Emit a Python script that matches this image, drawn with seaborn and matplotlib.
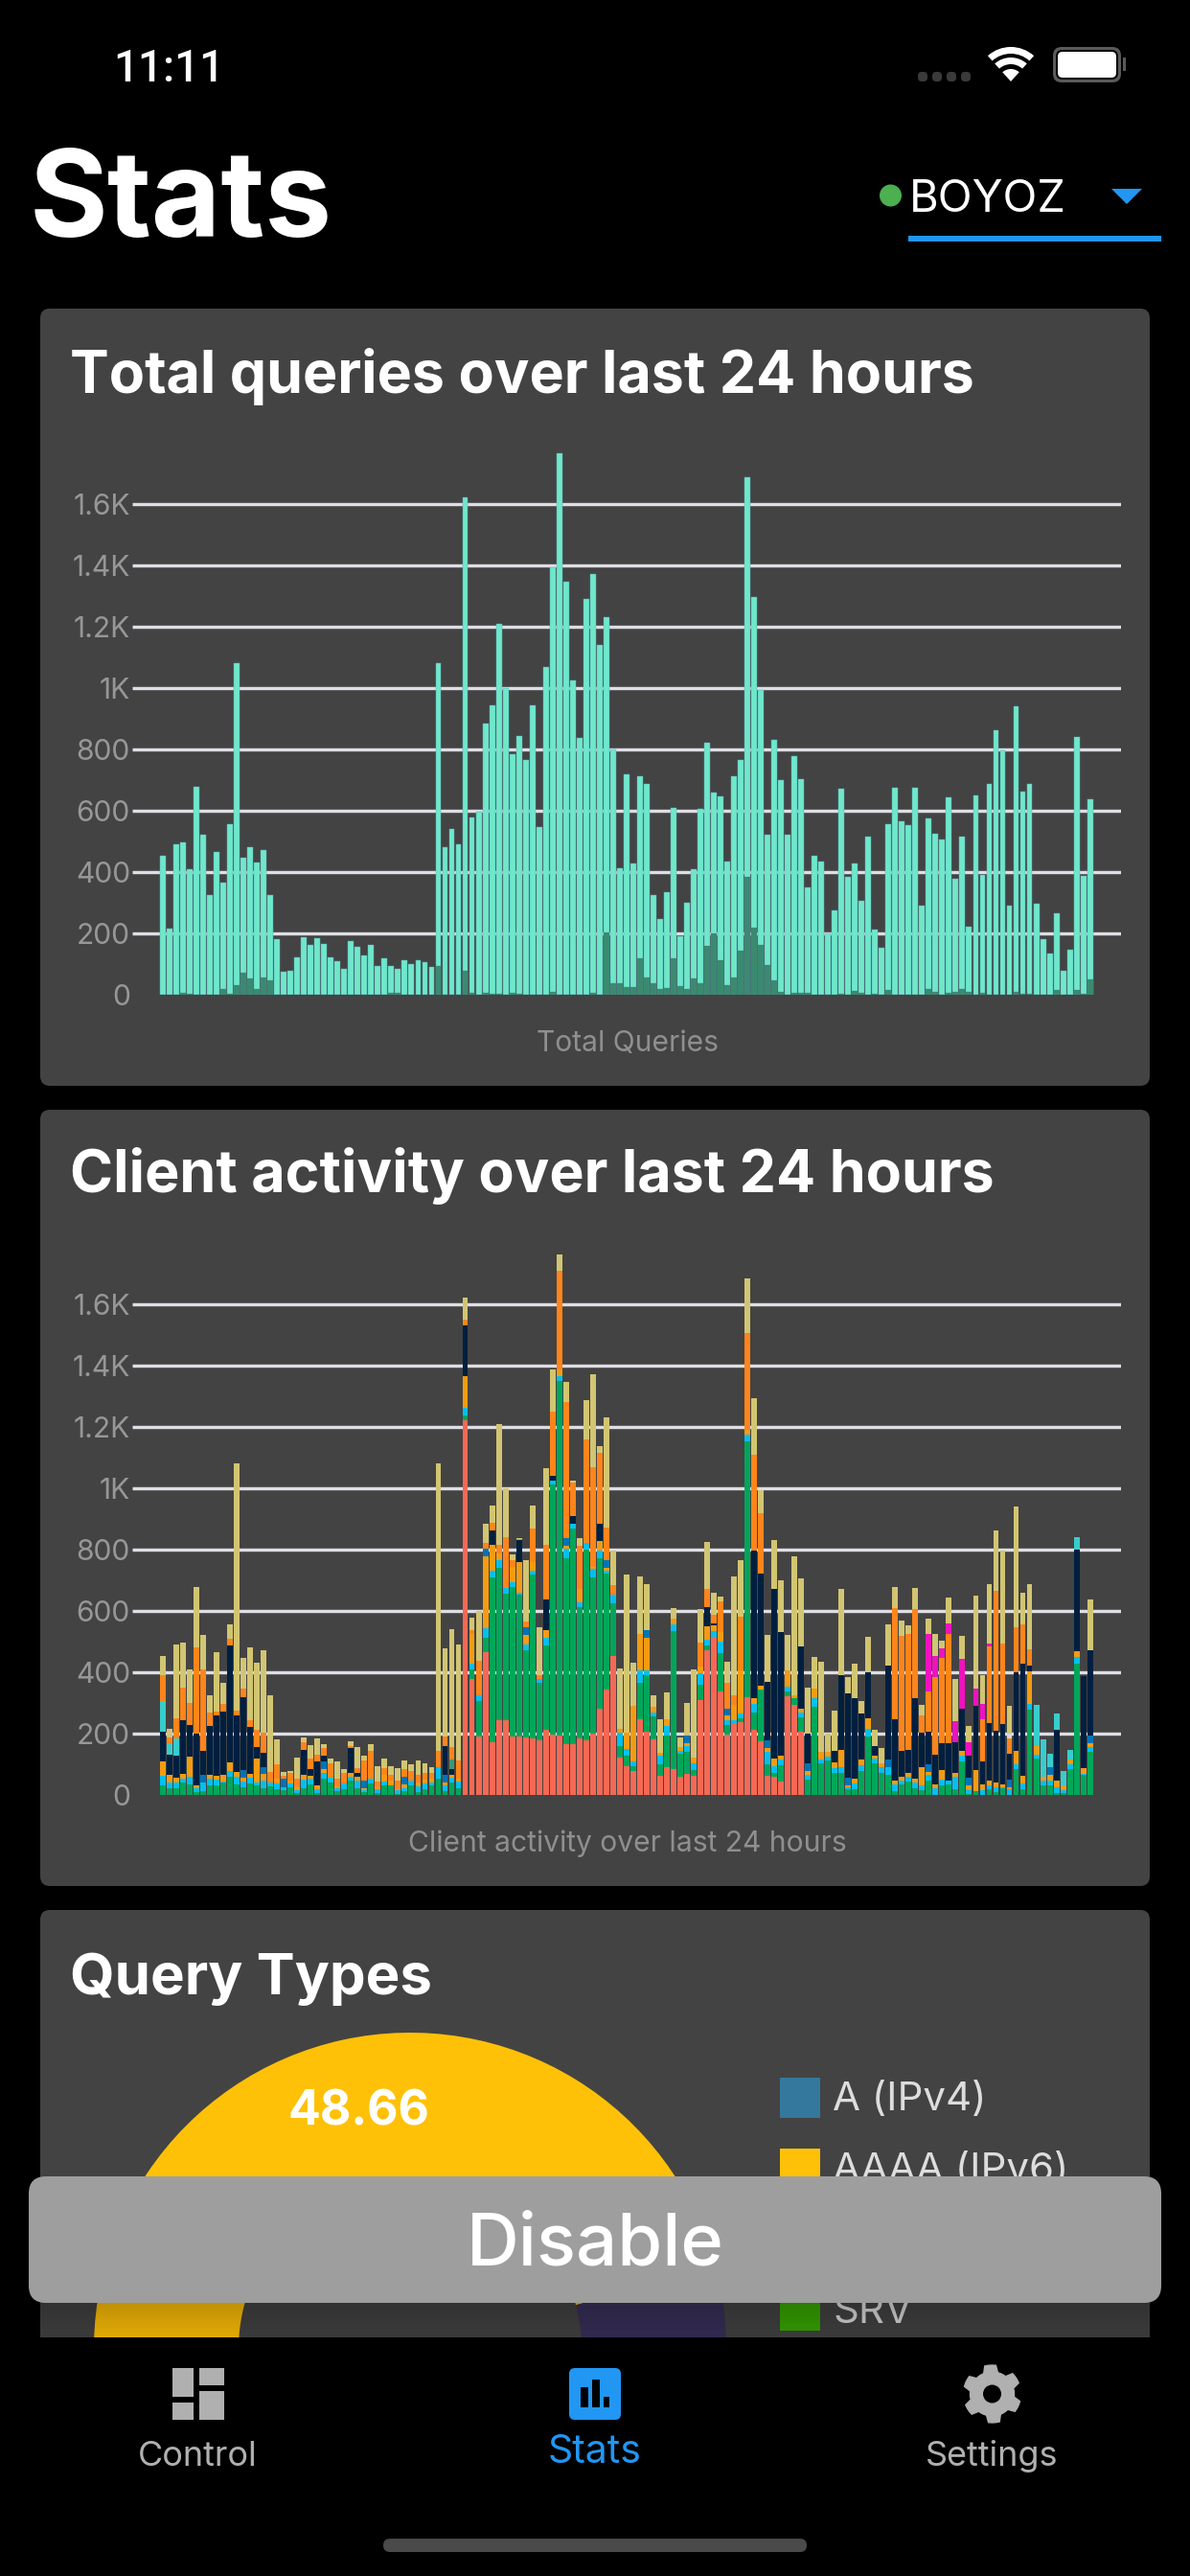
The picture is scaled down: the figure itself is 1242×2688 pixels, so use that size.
import numpy as np
import pandas as pd
import matplotlib
matplotlib.use("Agg")
import matplotlib.pyplot as plt
import seaborn as sns
from matplotlib.patches import FancyBboxPatch, Rectangle, Wedge, Circle, Polygon

# ---------- data ----------
total_queries = [454,217,492,496,411,677,523,325,467,366,
 557,1082,446,482,432,473,325,183,75,78,
 122,189,163,186,167,121,109,84,175,158,
 130,164,94,120,95,86,113,102,113,106,
 90,1082,482,541,490,1620,577,598,884,945,
 1210,1000,783,843,766,944,548,1067,1393,1765,
 1347,1024,838,1289,1370,1139,1230,800,412,719,
 429,711,687,326,246,336,608,190,299,410,
 605,823,658,648,434,713,764,1686,1295,992,
 521,832,700,521,777,704,350,452,436,201,
 274,673,384,427,306,516,212,155,557,676,
 566,553,674,292,576,526,505,644,379,517,
 221,649,391,688,862,797,290,939,661,687,
 296,183,136,266,79,147,839,388,639]
blocked_queries = [0,0,0,6,5,0,0,0,0,19,
 5,31,72,54,18,58,48,0,0,0,
 0,2,0,2,2,2,0,0,2,0,
 0,0,0,0,6,6,0,0,0,0,
 0,93,2,0,0,80,7,0,7,4,
 4,0,7,4,0,0,0,2,11,0,
 2,0,0,0,7,2,205,39,39,25,
 25,118,58,37,19,21,118,30,18,54,
 39,159,200,112,33,56,143,386,218,162,
 97,48,11,0,8,8,6,0,0,0,
 0,4,0,12,6,2,5,0,16,0,
 0,0,0,0,18,11,0,8,11,19,
 11,0,7,0,0,0,2,10,5,5,
 0,0,0,16,0,0,16,5,50]

client_red = [0]*45 + [1221,378,192,466,174,244,246,190,192,188,185,179,212,198,196,
 167,166,185,180,200,283,343,455,123,94,79,247,208,183,63,90,84,59,71,63,
 311,472,517,338,197,233,237,320,213,176,62,61,44,321,293,207] + [0]*43
client_green = [31,22,22,42,36,10,14,31,31,42,
 60,36,25,39,31,22,30,19,17,25,
 7,23,35,6,55,43,12,19,48,22,
 10,38,7,33,32,3,13,33,10,19,
 33,54,13,42,24,16,32,116,47,537,
 497,412,489,460,284,534,186,276,813,1154,
 605,703,428,621,510,490,380,171,37,35,
 16,118,182,73,39,105,450,75,71,18,
 49,16,0,124,31,0,14,834,56,168,
 38,12,54,16,22,48,50,288,105,114,
 73,73,19,19,79,191,105,74,68,14,
 35,45,24,17,48,0,31,36,20,110,
 3,12,0,19,10,22,0,85,19,278,
 119,33,33,8,7,84,429,67,141]
client_aqua = [31,19,19,12,23,12,26,22,20,4,
 18,24,20,17,10,26,12,19,10,12,
 10,29,18,13,19,14,12,18,12,26,
 7,16,13,12,0,14,11,14,20,20,
 10,39,18,14,20,24,19,17,32,20,
 26,18,16,8,19,14,15,26,14,14,
 32,16,14,20,29,23,10,27,43,23,
 14,41,17,13,27,30,22,10,17,24,
 36,20,18,38,18,13,16,20,29,0,
 42,22,17,17,0,14,16,27,13,13,
 16,20,6,19,19,25,14,19,24,22,
 13,16,18,16,18,22,19,12,41,20,
 12,0,16,13,17,3,19,17,20,18,
 14,14,14,19,10,16,22,3,17]
client_yellow = [48,24,17,17,68,11,0,12,13,19,
 30,16,12,13,79,22,0,17,0,11,
 8,13,11,14,11,0,4,0,12,12,
 7,0,5,20,17,3,11,0,12,12,
 12,0,11,10,11,105,97,0,233,85,
 22,0,48,100,32,26,0,24,0,24,
 8,0,45,0,5,31,8,0,12,51,
 182,121,106,19,10,24,19,13,10,19,
 24,43,20,32,13,49,141,18,19,12,
 12,26,14,53,12,13,13,32,23,13,
 18,54,7,16,17,35,11,11,0,12,
 13,12,13,60,10,14,33,0,12,13,
 17,71,20,16,16,10,7,42,24,109,
 26,13,19,20,16,16,19,18,12]
client_blue = [0,0,0,0,0,0,25,0,0,0,
 0,0,26,0,0,22,0,0,26,0,
 0,0,0,0,26,0,0,0,0,0,
 23,0,0,0,0,0,24,0,0,0,
 0,0,25,0,0,0,0,0,26,0,
 0,0,0,0,24,0,0,0,0,0,
 25,0,0,0,0,0,24,0,0,0,
 0,0,25,0,0,0,0,0,25,0,
 0,0,0,0,24,0,0,0,0,0,
 24,0,0,0,0,0,26,0,0,0,
 0,0,25,0,0,0,0,0,25,0,
 0,0,0,0,26,0,0,0,0,0,
 25,0,0,0,0,0,24,0,0,0,
 0,0,26,0,0,0,0,0,25]
client_navy = [97,66,72,173,102,168,81,161,195,208,
 380,184,235,153,36,47,0,0,0,0,
 0,82,20,76,19,0,0,0,82,14,
 0,0,0,0,0,0,0,0,0,0,
 0,0,94,20,0,165,0,0,0,47,
 0,0,0,71,0,0,0,100,16,0,
 0,25,0,0,0,56,0,0,0,0,
 0,0,0,0,0,0,0,0,0,0,
 0,62,6,0,0,0,0,0,479,366,
 192,551,404,0,0,203,96,2,0,0,
 37,245,275,263,152,149,30,0,305,201,
 84,74,262,111,105,97,88,123,99,139,
 72,209,75,188,166,197,85,256,366,17,
 0,0,0,165,0,0,329,301,276]
client_teal = [99,38,54] + [0]*127 + [136,121,43,54,47,32,42,0,0]
client_olive = [0]*43 + [29] + [0]*95
client_orange = [85,19,68,106,71,281,263,43,13,25,
 22,17,31,22,56,66,33,45,11,25,
 30,25,36,22,25,47,26,35,6,14,
 65,92,21,24,17,29,25,33,23,22,
 17,51,30,41,59,20,13,114,19,25,
 27,165,23,4,19,110,11,178,209,321,
 445,110,140,338,324,231,108,33,0,0,
 0,0,0,0,0,0,0,0,0,0,
 78,59,27,99,84,30,174,315,314,196,
 0,0,0,0,0,0,0,0,0,0,
 0,0,0,0,0,0,0,0,0,361,
 373,379,289,57,131,253,277,356,0,0,
 0,0,136,250,456,261,50,148,129,54,
 0,0,0,0,0,0,0,0,0]
client_fuchsia = [0]*114 + [189,69,32,32,68,161,44,56,49,8] + [0]*15
client_gray = [0]*126 + [16] + [0]*12
client_khaki = [63,29,240,146,111,195,114,56,195,68,
 47,805,97,238,220,268,250,83,11,5,
 67,17,43,55,12,17,56,12,16,69,
 18,19,49,31,30,38,30,22,49,32,
 19,937,289,384,376,69,38,160,61,57,
 394,158,19,4,200,74,156,251,137,54,
 65,5,26,129,303,24,357,111,198,517,
 140,185,149,39,108,87,35,32,106,287,
 109,152,71,17,68,388,183,178,185,75,
 151,160,167,115,452,220,149,102,295,60,
 133,281,54,111,41,117,53,51,136,67,
 50,29,68,32,49,71,25,85,139,75,
 53,301,94,195,197,305,90,392,103,211,
 0,0,0,0,0,0,0,0,167]

client_series = [client_red, client_green, client_aqua, client_yellow, client_blue, client_navy,
                 client_teal, client_olive, client_orange, client_fuchsia, client_gray, client_khaki]
client_colors = ["#f56954","#00a65a","#00c0ef","#f39c12","#0073b7","#001f3f",
                 "#39cccc","#3d9970","#ff851b","#f012be","#d2d6de","#d2c572"]

y_ticks = [0,200,400,600,800,1000,1200,1400,1600]
y_tick_labels = ["0","200","400","600","800","1K","1.2K","1.4K","1.6K"]

pie_values = [48.66, 51.34]
pie_colors = ["#ffc107", "#39305a"]
legend_names = ["A (IPv4)", "AAAA (IPv6)", "SRV"]
legend_colors = ["#35789d", "#ffc107", "#38a800"]
legend_rows = [0, 1, 3]

# ---------- helpers ----------
W, H = 1242, 2688
DPI = 100
PT = 72 / DPI
sns.set_theme(style="dark")
plt.rcParams["font.family"] = ["Inter", "Roboto", "DejaVu Sans"]
fig = plt.figure(figsize=(W / DPI, H / DPI), dpi=DPI, facecolor="black")

def px_axes(x0, y0, x1, y1, z):
    a = fig.add_axes([x0 / W, 1 - y1 / H, (x1 - x0) / W, (y1 - y0) / H], zorder=z)
    a.patch.set_visible(False)
    return a

def ui_axes(z):
    a = px_axes(0, 0, W, H, z)
    a.set_xlim(0, W); a.set_ylim(H, 0); a.axis("off")
    return a

bg = ui_axes(0)
top = ui_axes(5)

CARD = "#434343"
def rbox(a, x0, y0, x1, y1, r, c, z=1):
    a.add_patch(FancyBboxPatch((x0 + r, y0 + r), x1 - x0 - 2 * r, y1 - y0 - 2 * r,
                               boxstyle=f"round,pad={r},rounding_size={r}", fc=c, ec="none", zorder=z))

def txt(a, x, y, s, px, c="white", w="normal", ha="left", va="baseline", z=10, fam=None):
    t = a.text(x, y, s, fontsize=px * PT, color=c, fontweight=w, ha=ha, va=va, zorder=z)
    if fam:
        t.set_family(fam)

rbox(bg, 42, 322, 1200, 1133, 10, CARD)
rbox(bg, 42, 1158, 1200, 1968, 10, CARD)
rbox(bg, 42, 1993, 1200, 2500, 10, CARD)

txt(bg, 73, 410, "Total queries over last 24 hours", 61, w="bold")
txt(bg, 73, 1244, "Client activity over last 24 hours", 61, w="bold")
txt(bg, 73, 2081, "Query Types", 60, w="bold")
txt(bg, 655, 1097, "Total Queries", 30, c="#8f8f8f", ha="center")
txt(bg, 655, 1932, "Client activity over last 24 hours", 30, c="#8f8f8f", ha="center")

# ---------- charts ----------
N = len(total_queries)
cats = list(range(N))
PXU = 0.3203
STEP = 7.012

def setup_chart(a, base_y, top_y):
    a.set_xlim((138 - 170) / STEP, (1170 - 170) / STEP)
    a.set_ylim(0, (base_y - top_y) / PXU)
    a.set_yticks(y_ticks)
    a.set_yticklabels(y_tick_labels, fontsize=30 * PT, color="#979797")
    a.set_xticks([])
    a.set_xlabel(""); a.set_ylabel("")
    a.tick_params(axis="y", length=0, pad=1.5)
    a.set_axisbelow(True)
    a.grid(False)
    a.hlines(y_ticks[1:], *a.get_xlim(), colors="#dedee4", linewidth=3.4 * PT, zorder=0.5)
    for s in a.spines.values():
        s.set_visible(False)

# total queries chart
ax1 = px_axes(138, 460, 1170, 1038.2, 1)
df1 = pd.DataFrame({"slot": cats, "total": total_queries, "blocked": blocked_queries})
sns.barplot(data=df1, x="slot", y="total", color="#6fe8c8", saturation=1, width=0.84, errorbar=None,
            edgecolor="#5aa9c4", linewidth=0.45 * PT, ax=ax1, zorder=2)
sns.barplot(data=df1, x="slot", y="blocked", color="#3b8a70", saturation=1, width=0.84, errorbar=None,
            edgecolor="#3f8a80", linewidth=0.3 * PT, ax=ax1, zorder=3)
setup_chart(ax1, 1038.2, 460)

# client chart: cumulative tops painted from the tallest down
ax2 = px_axes(138, 1300, 1170, 1873.3, 1)
cum = np.cumsum(np.array(client_series, dtype=float), axis=0)
for k in range(len(client_series) - 1, -1, -1):
    dfk = pd.DataFrame({"slot": cats, "top": cum[k]})
    sns.barplot(data=dfk, x="slot", y="top", color=client_colors[k], saturation=1, width=0.84, errorbar=None,
                linewidth=0, ax=ax2, zorder=2 + (len(client_series) - k) * 0.01)
setup_chart(ax2, 1873.3, 1300)

# ---------- query types ----------
CX, CY, R = 428, 2451, 330
axp = px_axes(CX - R, CY - R, CX + R, CY + R, 1)
axp.pie(pie_values, colors=pie_colors, startangle=14.8, radius=1.0,
        wedgeprops=dict(width=1 - 179 / R, linewidth=0))
axp.set_xlim(-1, 1); axp.set_ylim(-1, 1)
axp.set_aspect("equal")
txt(top, 374.5, 2218, "48.66", 50, w="bold", ha="center", z=1)

for name, col, row in zip(legend_names, legend_colors, legend_rows):
    y = 2168 + 74 * row
    bg.add_patch(Rectangle((814, y), 42, 42, fc=col, ec="none", zorder=3))
    txt(bg, 869, y + 34, name, 42, c="#dddddd")

# ---------- overlay: shadow, tab bar, button ----------
shade = np.zeros((36, 1, 4))
shade[:, 0, 3] = np.linspace(0.25, 0.12, 36)
top.imshow(shade, extent=(42, 1200, 2439, 2403), aspect="auto", zorder=2)
top.set_xlim(0, W); top.set_ylim(H, 0)

top.add_patch(Rectangle((0, 2439), W, H - 2439, fc="black", ec="none", zorder=3))
rbox(top, 30, 2271, 1212, 2403, 18, "#9e9e9e", z=4)
txt(top, 621, 2363, "Disable", 76, ha="center", w="medium")

# header
txt(top, 118, 85, "11:11", 46, w="medium", fam=["Roboto", "DejaVu Sans"])
txt(top, 31, 247, "Stats", 125, w="bold")
top.add_patch(Circle((929.5, 204), 11.5, fc="#4caf50", ec="none", zorder=4))
txt(top, 949, 221, "BOYOZ", 47)
top.add_patch(Polygon([(1160, 197), (1192, 197), (1176, 213)], fc="#2196f3", ec="none", zorder=4))
top.add_patch(Rectangle((948, 246), 264, 6, fc="#2196f3", ec="none", zorder=4))

# status icons
for dx in (958, 973, 988, 1003):
    rbox(top, dx, 75, dx + 10, 85, 4, "#3a3a3a", z=4)
for r_, w_ in ((36, 7), (25, 7), (13, 13)):
    top.add_patch(Wedge((1055, 85), r_, 228, 312, width=w_, fc="white", ec="none", zorder=4))
rbox(top, 1099, 49, 1170, 86, 9, "#5a5a5a", z=4)
rbox(top, 1102, 52, 1167, 83, 7, "black", z=4)
rbox(top, 1104, 54, 1165, 81, 5, "white", z=4)
top.add_patch(Rectangle((1172, 60), 3, 14, fc="#5a5a5a", ec="none", zorder=4))

# tab bar
GRAY = "#b0b0b0"
for (x0, y0, x1, y1) in ((180, 2471, 202, 2501), (207.5, 2471, 234, 2489),
                         (180, 2507, 202, 2525), (207.5, 2495, 234, 2525)):
    top.add_patch(Rectangle((x0, y0), x1 - x0, y1 - y0, fc=GRAY, ec="none", zorder=4))
txt(top, 206, 2573, "Control", 36, c=GRAY, ha="center")

rbox(top, 594, 2471, 648, 2525, 6, "#2196f3", z=4)
for (x0, y0, x1, y1) in ((606, 2491, 614, 2512), (618, 2483, 626, 2512), (630, 2501, 636, 2512)):
    top.add_patch(Rectangle((x0, y0), x1 - x0, y1 - y0, fc="black", ec="none", zorder=5))
txt(top, 620, 2570, "Stats", 41, c="#2196f3", ha="center")

gx, gy = 1035.5, 2498
ang = np.radians(np.arange(0, 360, 7.5) + 0)
pts = []
for t in ang:
    phase = ((np.degrees(t) + 15) % 60)
    rad = 30 if phase < 30 else 23
    pts.append((gx + rad * np.sin(t), gy - rad * np.cos(t)))
top.add_patch(Polygon(pts, fc=GRAY, ec=GRAY, lw=1, zorder=4))
top.add_patch(Circle((gx, gy), 9.5, fc="black", ec="none", zorder=5))
txt(top, 1035, 2573, "Settings", 36, c=GRAY, ha="center")

rbox(top, 400, 2649, 842, 2663, 7, "#4a4a4a", z=4)

fig.savefig("out.png", dpi=DPI, facecolor="black")
for nm, arr in [("total", total_queries), ("blocked", blocked_queries)] + [(c, s) for c, s in zip(client_colors, client_series)]:
    assert len(arr) == 139, (nm, len(arr))
